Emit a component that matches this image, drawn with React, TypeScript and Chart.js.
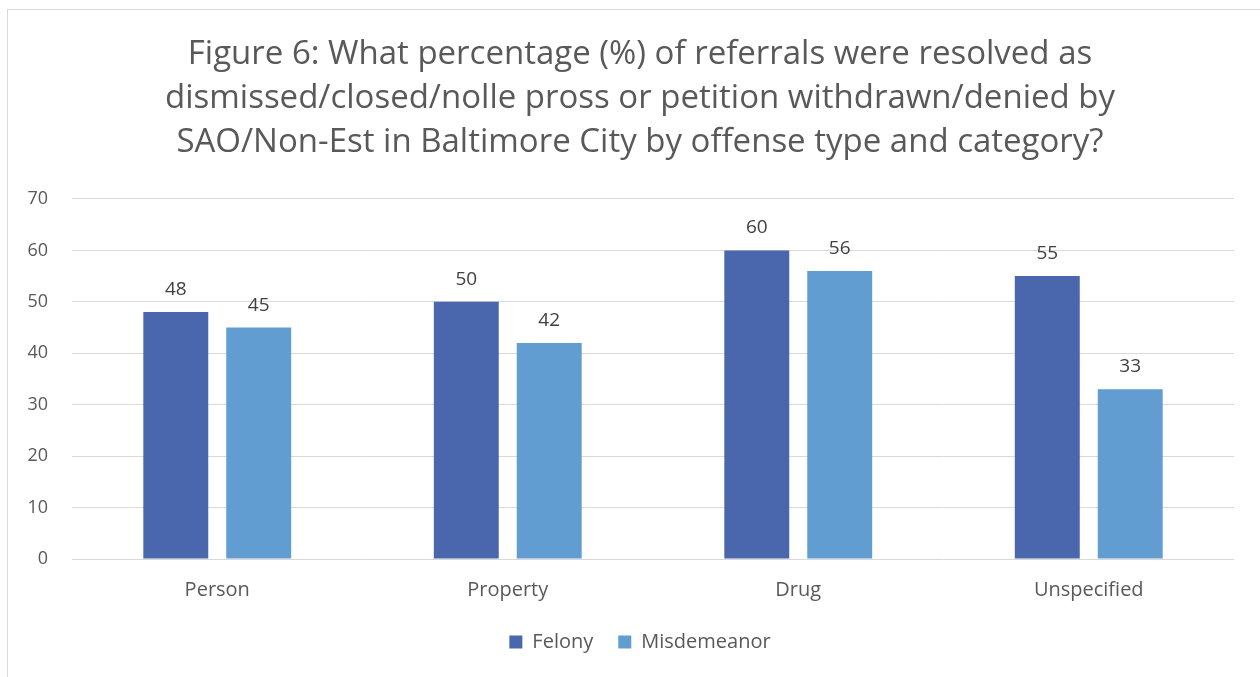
import React, { useEffect, useRef } from "react";
import { Chart, registerables } from "chart.js";

Chart.register(...registerables);

const titleLines = [
  "Figure 6: What percentage (%) of referrals were resolved as",
  "dismissed/closed/nolle pross or petition withdrawn/denied by",
  "SAO/Non-Est in Baltimore City by offense type and category?",
];
const categories = ["Person", "Property", "Drug", "Unspecified"];
const felony = [48, 50, 60, 55];
const misdemeanor = [45, 42, 56, 33];
const yMin = 0;
const yMax = 70;
const yStep = 10;

const FONT = "'Open Sans', 'Noto Sans', sans-serif";
const TEXT = "#595959";

const valueLabels = {
  id: "valueLabels",
  afterDatasetsDraw(chart: any) {
    const ctx = chart.ctx;
    ctx.save();
    ctx.font = `19px ${FONT}`;
    ctx.fillStyle = "#404040";
    ctx.textAlign = "center";
    ctx.textBaseline = "alphabetic";
    chart.data.datasets.forEach((ds: any, i: number) => {
      const meta = chart.getDatasetMeta(i);
      meta.data.forEach((bar: any, j: number) => {
        ctx.fillText(String(ds.data[j]), bar.x, bar.y - 17);
      });
    });
    ctx.restore();
  },
};

// Centre the title and legend on the whole frame rather than on the full layout box.
const shiftBlocks = {
  id: "shiftBlocks",
  beforeDraw(chart: any) {
    if (chart.titleBlock) chart.titleBlock.left = 38;
    if (chart.legend) chart.legend.left = 38;
  },
};

export default function App() {
  const ref = useRef<HTMLCanvasElement | null>(null);
  useEffect(() => {
    if (!ref.current) return;
    const chart = new Chart(ref.current, {
      type: "bar",
      data: {
        labels: categories,
        datasets: [
          { label: "Felony", data: felony, backgroundColor: "#4A66AC" },
          { label: "Misdemeanor", data: misdemeanor, backgroundColor: "#629DD1" },
        ],
      },
      options: {
        animation: false,
        responsive: false,
        maintainAspectRatio: false,
        layout: { padding: { left: 0, right: 26, top: 0, bottom: 15 } },
        datasets: {
          bar: { categoryPercentage: 0.571, barPercentage: 0.783 },
        },
        plugins: {
          tooltip: { enabled: false },
          title: {
            display: true,
            text: titleLines,
            color: TEXT,
            font: { family: FONT, size: 33, weight: "normal", lineHeight: 1.333 },
            padding: { top: 23, bottom: 34 },
          },
          legend: {
            position: "bottom",
            labels: {
              boxWidth: 13,
              boxHeight: 13,
              padding: 25,
              color: TEXT,
              font: { family: FONT, size: 20 },
            },
          },
        },
        scales: {
          x: {
            grid: { display: false, drawTicks: false },
            border: { display: false },
            ticks: { color: TEXT, font: { family: FONT, size: 20 }, padding: 19 },
            afterFit(scale: any) {
              scale.height -= 14;
            },
          },
          y: {
            min: yMin,
            max: yMax,
            grid: { color: "#d9d9d9", lineWidth: 1, drawTicks: false },
            border: { display: false },
            ticks: {
              stepSize: yStep,
              color: TEXT,
              font: { family: FONT, size: 18 },
              padding: 24,
            },
            afterFit(scale: any) {
              scale.width = 64;
            },
          },
        },
      },
      plugins: [valueLabels, shiftBlocks],
    } as any);
    return () => chart.destroy();
  }, []);
  return (
    <div
      style={{
        position: "fixed",
        left: 7,
        top: 9,
        width: 1262,
        height: 680,
        borderLeft: "1px solid #d9d9d9",
        borderTop: "1px solid #d9d9d9",
        background: "#fff",
      }}
    >
      <canvas ref={ref} width={1252} height={667} style={{ display: "block" }} />
    </div>
  );
}
